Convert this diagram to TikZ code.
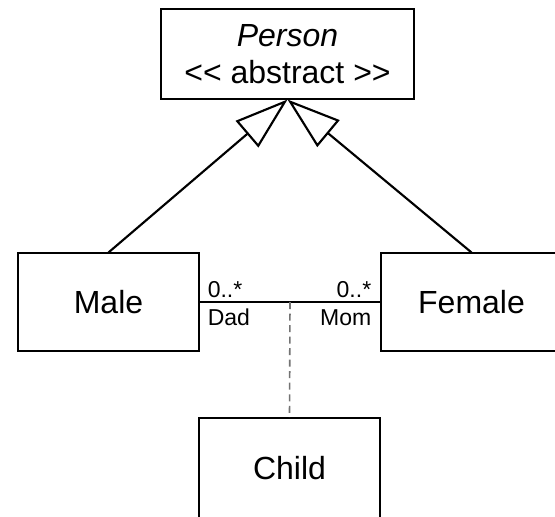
\documentclass[tikz,border=0pt]{standalone}
\usepackage{fontspec}
\newfontfamily\umlfont{Liberation Sans}
\usetikzlibrary{arrows.meta}

\begin{document}
\begin{tikzpicture}[x=0.75pt,y=-0.75pt,
  cls/.style={draw,line width=0.8pt,minimum width=135.75pt,minimum height=73.5pt,
    font=\umlfont\fontsize{24}{28}\selectfont},
  role/.style={inner sep=0pt,font=\umlfont\fontsize{17.25}{20}\selectfont},
  inherit/.style={line width=1.6pt,-{Triangle[open,length=40pt,width=26pt]}}]
 \useasboundingbox (0,0) rectangle (555,516);
 % classes
 \node[cls,minimum width=189.75pt,minimum height=67.5pt,align=center] (person) at (287.5,54)
   {\textit{Person}\\<< abstract >>};
 \node[cls] (male) at (108.5,302) {Male};
 \node[cls] (female) at (471.5,302) {Female};
 \node[cls,minimum height=75pt] (child) at (289.5,468) {Child};
 % generalisation
 \draw[inherit] (male.north) -- (person.south);
 \draw[inherit] (female.north) -- (person.south);
 % association with its class
 \draw[line width=0.8pt] (male.east) -- coordinate[midway] (link) (female.west);
 \draw[gray!90!black,line width=1.2pt,dash pattern=on 5.25pt off 3.4pt] (link) -- (child.north);
 \node[role,anchor=base west] (dadmult) at ([xshift=6pt,yshift=3.75pt]male.east) {0..*};
 \node[role,anchor=base west] (dad) at ([xshift=6pt,yshift=-17.25pt]male.east) {Dad};
 \node[role,anchor=base east] (mommult) at ([xshift=-6.75pt,yshift=3.75pt]female.west) {0..*};
 \node[role,anchor=base east] (mom) at ([xshift=-6.75pt,yshift=-17.25pt]female.west) {Mom};
\end{tikzpicture}
\end{document}
